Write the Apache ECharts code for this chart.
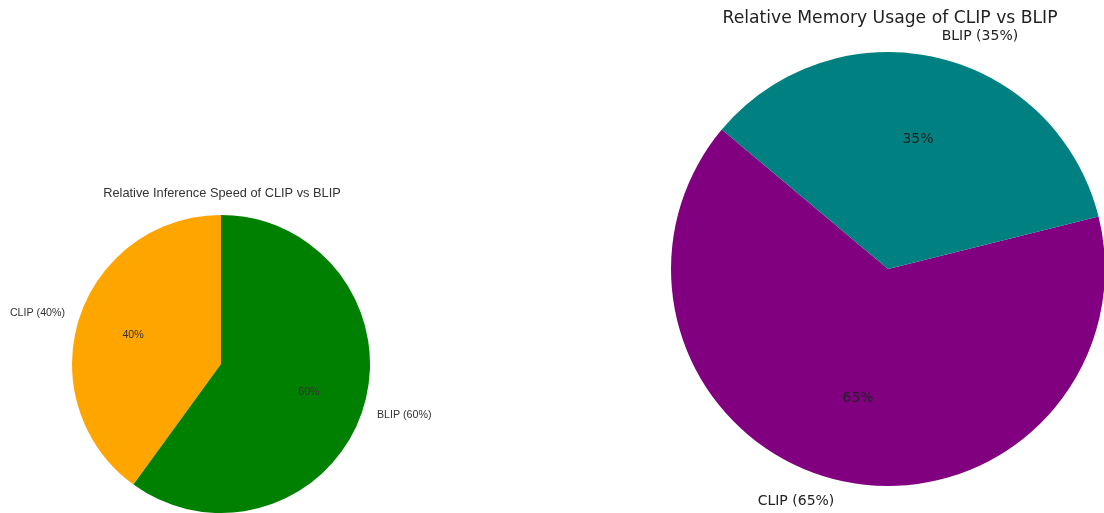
<!DOCTYPE html>
<html>
<head>
<meta charset="utf-8">
<script src="https://cdn.jsdelivr.net/npm/echarts@6/dist/echarts.min.js"></script>
<style>html,body{margin:0;padding:0;background:#fff}#c{width:1104px;height:513px}</style>
</head>
<body>
<div id="c"></div>
<script>
const speedCategories = ['CLIP', 'BLIP'];
const speedValues = [40, 60];
const speedColors = ['#FFA500', '#008000'];
const memoryCategories = ['CLIP', 'BLIP'];
const memoryValues = [65, 35];
const memoryColors = ['#800080', '#008080'];

function makePie(cats, vals, colors, center, r, startAngle, fontFamily, fontSize, textColor) {
  const data = cats.map((c, i) => ({ name: c, value: vals[i], itemStyle: { color: colors[i] } }));
  const ghost = cats.map((c, i) => ({ name: c, value: vals[i] }));
  return [
    {
      type: 'pie', center: center, radius: [0, r], startAngle: startAngle, clockwise: false,
      avoidLabelOverlap: false, silent: true, animation: false,
      data: data,
      label: {
        show: true, position: 'outside', formatter: p => p.name + ' (' + Math.round(p.percent) + '%)',
        fontFamily: fontFamily, fontSize: fontSize, color: textColor, distanceToLabelLine: 0
      },
      labelLine: { show: false, length: 0.1 * r, length2: 0 }
    },
    {
      type: 'pie', center: center, radius: [0, 1.2 * r], startAngle: startAngle, clockwise: false,
      avoidLabelOverlap: false, silent: true, animation: false,
      data: ghost,
      itemStyle: { color: 'rgba(0,0,0,0)' },
      label: {
        show: true, position: 'inside', formatter: p => Math.round(p.percent) + '%',
        fontFamily: fontFamily, fontSize: fontSize, color: textColor
      },
      labelLine: { show: false }
    }
  ];
}

const chart = echarts.init(document.getElementById('c'), null, { renderer: 'canvas' });
chart.setOption({
  backgroundColor: '#fff',
  animation: false,
  title: [
    { text: 'Relative Inference Speed of CLIP vs BLIP', left: 217, top: 182, textAlign: 'center',
      textStyle: { fontFamily: 'Liberation Sans', fontSize: 12.8, fontWeight: 'normal', color: '#333' } },
    { text: 'Relative Memory Usage of CLIP vs BLIP', left: 885, top: 5, textAlign: 'center',
      textStyle: { fontFamily: 'DejaVu Sans', fontSize: 17.2, fontWeight: 'normal', color: '#222' } }
  ],
  series: [
    ...makePie(speedCategories, speedValues, speedColors, [221, 364], 149, 90, 'Liberation Sans', 10.7, '#333'),
    ...makePie(memoryCategories, memoryValues, memoryColors, [888, 269], 217, 140, 'DejaVu Sans', 14, '#222')
  ]
});
</script>
</body>
</html>
